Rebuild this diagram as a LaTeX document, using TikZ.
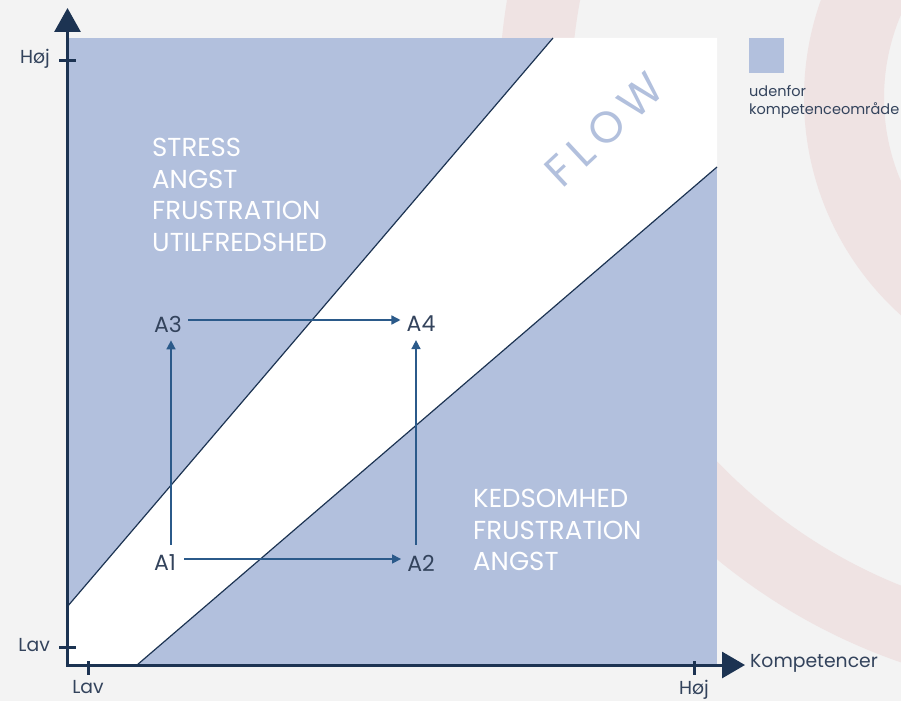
\documentclass[tikz,border=0pt]{standalone}
\usepackage{fontspec}
\setmainfont{Poppins}
\usetikzlibrary{arrows.meta}
\definecolor{bgc}{HTML}{F3F3F3}
\definecolor{ringc}{HTML}{EFE3E3}
\definecolor{zonec}{HTML}{B2C0DD}
\definecolor{axisc}{HTML}{1C3352}
\definecolor{arrc}{HTML}{2B5A8A}
\definecolor{txtc}{HTML}{33435C}
\tikzset{
  axisline/.style={axisc, line width=3pt},
  tick/.style={axisc, line width=3pt},
  axlabel/.style={txtc, font=\fontsize{18.8}{22}\selectfont, inner sep=0pt},
  alabel/.style={txtc, font=\fontsize{22}{26}\selectfont, inner sep=0pt},
  zonetext/.style={white, font=\fontsize{26}{31.5}\selectfont, align=left, inner sep=0pt, anchor=north west},
  move/.style={arrc, line width=1.5pt, -{Triangle[length=9pt,width=9pt]}},
  diag/.style={axisc, line width=1.2pt},
}
\begin{document}
\begin{tikzpicture}[x=1pt,y=-1pt]
\useasboundingbox (0,0) rectangle (901,701);
\fill[bgc] (0,0) rectangle (901,701);
\begin{scope}
\clip (0,0) rectangle (901,701);
\fill[ringc, even odd rule] (1096,98) circle[radius=597pt] (1096,98) circle[radius=525pt];
\fill[ringc, even odd rule] (1096,98) circle[radius=292pt] (1096,98) circle[radius=212pt];
\end{scope}
% plot area
\fill[zonec] (67,38) rectangle (717,665);
\fill[white] (67,607) -- (553,38) -- (717,38) -- (717,167) -- (137,665) -- (67,665) -- cycle;
\draw[diag] (67,607) -- (553,38);
\draw[diag] (137,665) -- (717,167);
% FLOW
\node[zonec, rotate=43, font=\fontsize{44}{44}\selectfont\addfontfeatures{LetterSpace=18}] (flow) at (604,130) {FLOW};
% zone texts
\node[zonetext] (upper) at (152,138) {STRESS\\ANGST\\FRUSTRATION\\UTILFREDSHED};
\node[zonetext] (lower) at (473,489) {KEDSOMHED\\FRUSTRATION\\ANGST};
% axes
\coordinate (O) at (67.5,666);
\coordinate (ytip) at (67.5,8);
\coordinate (xtip) at (745,665);
\draw[axisline, -{Triangle[length=24pt,width=26pt]}] (O) -- (ytip);
\draw[axisline, -{Triangle[length=23pt,width=26pt]}] (66,665) -- (xtip);
% ticks
\draw[tick] (59,60) -- (76,60);
\draw[tick] (59,647) -- (76,647);
\draw[tick] (88,661) -- (88,675);
\draw[tick] (694,661) -- (694,675);
\node[axlabel, anchor=east] (yhoj) at (50,59) {Høj};
\node[axlabel, anchor=east] (ylav) at (50,645) {Lav};
\node[axlabel, anchor=north] (xlav) at (88,680) {Lav};
\node[axlabel, anchor=north] (xhoj) at (694,680) {Høj};
\node[axlabel, anchor=west] (xname) at (750,663) {Kompetencer};
% legend
\node[fill=zonec, minimum size=35pt, inner sep=0pt] (leg) at (766.5,55.5) {};
\node[txtc, font=\fontsize{14.5}{18}\selectfont, align=left, anchor=north west, inner sep=0pt] (legtext) at (749,85) {udenfor\\kompetenceområde};
% A nodes
\node[alabel] (A3) at (168,324) {A3};
\node[alabel] (A4) at (421,324) {A4};
\node[alabel] (A1) at (165,563) {A1};
\node[alabel] (A2) at (421,563) {A2};
\draw[move] ([yshift=4pt,xshift=6pt]A3.east) -- ([yshift=4pt,xshift=-6pt]A4.west);
\draw[move] ([yshift=4pt,xshift=8pt]A1.east) -- ([yshift=4pt,xshift=-6pt]A2.west);
\draw[move] (A1.north -| 171,0) ++(0,-10) -- ([yshift=-8pt]A3.south -| 171,0);
\draw[move] (A2.north -| 416,0) ++(0,-10) -- ([yshift=-8pt]A4.south -| 416,0);
\end{tikzpicture}
\end{document}
